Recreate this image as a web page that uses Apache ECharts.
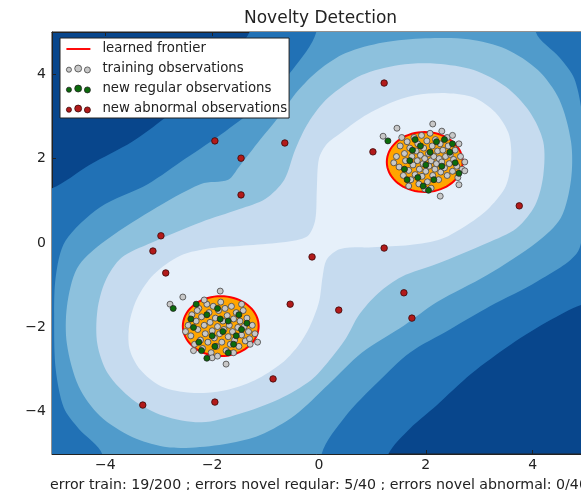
<!DOCTYPE html>
<html><head><meta charset="utf-8">
<script src="https://cdn.jsdelivr.net/npm/echarts@6/dist/echarts.min.js"></script>
<style>html,body{margin:0;padding:0;background:#fff}#c{width:581px;height:490px}</style>
</head><body><div id="c"></div>
<script>
const xTicks = [-4, -2, 0, 2, 4];
const yTicks = [-4, -2, 0, 2, 4];
const titleText = 'Novelty Detection';
const xLabelText = 'error train: 19/200 ; errors novel regular: 5/40 ; errors novel abnormal: 0/40';

// filled contour bands (Blues_r), darkest first
const bandColors = ['#08468c', '#2171b5', '#509bcb', '#8dc1dd', '#c6dbef', '#e6f0fa'];

// region outlines (data coords) for each successive level
const level1 = [[-6,-6],[-6,1.05],[-5,1.3],[-4.3,1.85],[-3.5,2.4],[-2.9,2.95],[-2.25,3.65],[-1.7,4.35],[-1.3,5],[-1.1,6],[6,6],[6,-1.2],[4.95,-1.45],[4.3,-1.85],[3.6,-2.4],[2.85,-3.1],[2.2,-3.85],[1.7,-4.4],[1.3,-5],[1.1,-6]];
const level2 = [[-4.75,0.05],[-4.1,0.85],[-3.2,1.4],[-2.5,2.0],[-1.75,2.65],[-1.1,3.3],[-0.5,4.1],[-0.05,5],[-0.1,6],[4.1,6],[4.06,5],[4.5,4.4],[4.78,3.9],[4.93,3.0],[4.96,1.9],[4.93,0.8],[4.85,-0.2],[4.1,-0.9],[3.2,-1.5],[2.45,-2.05],[1.7,-2.6],[1.1,-3.3],[0.5,-4.1],[0.05,-5],[0.1,-6],[-4.1,-6],[-4.06,-5],[-4.5,-4.4],[-4.78,-3.9],[-4.93,-3.0],[-4.96,-1.9],[-4.93,-0.8]];
const level3 = [[-1.7,1.5],[-1.5,1.8],[-1.1,2.45],[-0.75,3.0],[-0.4,3.6],[0.0,4.1],[0.5,4.5],[1.2,4.75],[2.0,4.85],[2.8,4.83],[3.5,4.6],[4.1,4.1],[4.5,3.4],[4.72,2.4],[4.72,1.5],[4.53,0.6],[4.08,0.02],[3.15,-0.76],[2.21,-1.4],[1.6,-1.95],[0.8,-2.6],[0.17,-3.36],[-0.45,-4.08],[-1.1,-4.55],[-1.7,-4.75],[-2.4,-4.85],[-2.9,-4.83],[-3.5,-4.6],[-4.1,-4.1],[-4.5,-3.4],[-4.72,-2.4],[-4.72,-1.5],[-4.53,-0.6],[-4.08,-0.02],[-3.15,0.76],[-2.21,1.4]];
const level4 = [[-1.5,0.8],[-1.0,1.05],[-0.65,1.5],[-0.45,2.2],[-0.2,2.85],[0.17,3.44],[0.8,3.98],[1.5,4.22],[2.2,4.25],[2.9,4.1],[3.5,3.7],[3.95,3.1],[4.2,2.4],[4.2,1.6],[4.05,0.9],[3.7,0.35],[3.15,0.0],[2.2,-0.5],[1.55,-0.8],[1.1,-1.2],[0.75,-1.7],[0.5,-2.27],[0.17,-2.82],[-0.15,-3.25],[-0.75,-3.7],[-1.5,-4.05],[-2.2,-4.25],[-2.9,-4.1],[-3.5,-3.7],[-3.95,-3.1],[-4.15,-2.4],[-4.15,-1.6],[-4.0,-0.9],[-3.7,-0.35],[-3.15,0.0],[-2.2,0.5]];
const level5 = [[-0.2,0.18],[-0.07,0.55],[-0.04,1.3],[0.0,2.0],[0.15,2.35],[0.4,2.6],[0.8,2.97],[1.3,3.3],[1.8,3.5],[2.4,3.55],[2.9,3.45],[3.3,3.1],[3.55,2.6],[3.6,2.0],[3.5,1.35],[3.2,0.85],[2.8,0.45],[2.3,0.1],[1.7,-0.05],[1.0,-0.1],[0.4,-0.14],[0.15,-0.38],[0.07,-0.78],[0.0,-1.4],[-0.18,-2.0],[-0.4,-2.45],[-0.7,-2.85],[-1.2,-3.25],[-1.8,-3.5],[-2.4,-3.55],[-2.95,-3.4],[-3.35,-3.0],[-3.55,-2.5],[-3.55,-1.9],[-3.4,-1.3],[-3.1,-0.75],[-2.6,-0.3],[-2.0,-0.12],[-1.48,-0.07],[-0.8,0.0],[-0.45,0.06]];
const contourLevels = [level1, level2, level3, level4, level5];

// learned frontier (level 0): centres and radii in data units
const frontierCenters = [[1.98, 1.92], [-1.84, -1.97]];
const frontierRadii = [[0.71, 0.71], [0.71, 0.71]];

const trainUpper = [[1.45,2.05],[1.5,1.8],[1.52,2.3],[1.58,1.6],[1.6,2.12],[1.62,1.95],[1.65,2.4],[1.68,1.72],[1.7,2.25],[1.72,1.5],[1.74,2.05],[1.76,1.85],[1.78,2.5],[1.8,1.62],[1.82,2.18],[1.84,1.95],[1.85,2.35],[1.87,1.4],[1.88,1.75],[1.9,2.08],[1.92,2.55],[1.93,1.58],[1.95,1.88],[1.96,2.25],[1.98,2.0],[2.0,1.7],[2.02,2.42],[2.03,1.45],[2.05,2.12],[2.06,1.82],[2.08,2.6],[2.1,1.95],[2.12,2.3],[2.13,1.6],[2.15,2.05],[2.17,1.75],[2.18,2.45],[2.2,1.88],[2.22,2.18],[2.24,1.5],[2.25,2.0],[2.27,2.35],[2.28,1.68],[2.3,1.92],[2.32,2.2],[2.35,1.78],[2.37,2.05],[2.4,1.6],[2.42,2.3],[2.44,1.88],[2.46,2.1],[2.5,1.7],[2.52,1.98],[2.55,2.2],[2.58,1.82],[1.55,2.5],[1.68,1.35],[2.1,1.3],[2.4,2.5],[2.6,1.55],[1.4,1.9],[2.65,2.05],[2.62,2.35],[1.98,1.28],[2.68,1.75],[1.46,2.72],[1.2,2.53],[2.13,2.82],[2.3,2.65],[2.73,1.92],[2.73,1.71],[2.27,1.11],[2.62,1.38],[2.5,2.55]];
const trainLower = [[-2.45,-1.95],[-2.4,-2.2],[-2.38,-1.7],[-2.33,-2.4],[-2.3,-1.85],[-2.27,-2.05],[-2.25,-1.55],[-2.22,-2.3],[-2.2,-1.75],[-2.18,-2.5],[-2.15,-1.95],[-2.13,-2.15],[-2.1,-1.45],[-2.08,-2.35],[-2.06,-1.65],[-2.04,-1.88],[-2.02,-2.6],[-2.0,-2.08],[-1.98,-1.5],[-1.96,-2.25],[-1.94,-1.78],[-1.92,-2.45],[-1.9,-1.98],[-1.88,-1.6],[-1.86,-2.15],[-1.84,-1.4],[-1.82,-2.35],[-1.8,-1.85],[-1.78,-2.05],[-1.76,-1.55],[-1.74,-2.55],[-1.72,-1.72],[-1.7,-2.22],[-1.68,-1.95],[-1.66,-2.4],[-1.64,-1.5],[-1.62,-2.1],[-1.6,-1.8],[-1.58,-2.3],[-1.55,-1.65],[-1.52,-2.0],[-1.5,-2.45],[-1.48,-1.85],[-1.45,-2.18],[-1.42,-1.6],[-1.4,-1.98],[-1.38,-2.32],[-1.35,-1.78],[-1.32,-2.1],[-1.3,-2.27],[-2.5,-2.1],[-2.35,-2.55],[-2.0,-2.72],[-1.6,-2.6],[-1.45,-1.45],[-2.15,-1.35],[-1.25,-1.95],[-2.28,-1.6],[-1.9,-2.68],[-1.2,-2.15],[-1.85,-1.14],[-2.55,-1.28],[-2.79,-1.45],[-1.74,-2.87],[-1.29,-2.4],[-1.15,-2.35]];
const regularUpper = [[1.29,2.42],[1.6,1.75],[1.75,2.2],[1.85,1.55],[1.9,2.3],[2.0,1.85],[2.08,2.15],[2.15,1.5],[2.2,2.4],[2.3,1.82],[2.45,2.15],[2.55,1.9],[1.7,1.95],[2.62,1.65],[1.95,1.35],[1.65,1.5],[2.35,2.45],[1.8,2.45],[2.5,2.35],[2.05,1.25]];
const regularLower = [[-2.73,-1.55],[-2.1,-2.73],[-2.35,-2.0],[-2.25,-2.35],[-2.1,-1.7],[-2.0,-2.2],[-1.9,-1.55],[-1.8,-2.1],[-1.7,-1.85],[-1.6,-2.4],[-1.5,-1.7],[-1.45,-2.05],[-2.4,-1.8],[-2.2,-2.55],[-1.95,-2.45],[-1.85,-1.8],[-1.35,-1.9],[-2.3,-1.45],[-1.7,-2.6],[-1.55,-2.2]];
const abnormal = [[-1.95,2.42],[-1.46,2.01],[-1.46,1.14],[-0.64,2.37],[-2.96,0.17],[-3.11,-0.19],[-2.87,-0.71],[1.22,3.79],[1.01,2.16],[3.75,0.88],[1.22,-0.12],[-0.13,-0.33],[-0.54,-1.45],[0.37,-1.59],[1.59,-1.18],[1.74,-1.78],[-0.86,-3.22],[-1.95,-3.77],[-3.30,-3.84]];

const FONT = 'DejaVu Sans';
const TXT = '#222';
const fmt = v => (v < 0 ? '\u2212' + Math.abs(v) : String(v));
const threeDots = 'path://M0.8,6a2.2,2.2 0 1,0 4.4,0a2.2,2.2 0 1,0 -4.4,0ZM8,5a3,3 0 1,0 6,0a3,3 0 1,0 -6,0ZM16.4,6.2a2.6,2.6 0 1,0 5.2,0a2.6,2.6 0 1,0 -5.2,0Z';

const chart = echarts.init(document.getElementById('c'), null, {renderer: 'canvas'});
const xAxisBase = {type: 'value', min: -5, max: 5, splitLine: {show: false},
  axisLine: {show: true, onZero: false, lineStyle: {color: TXT, width: 1}},
  axisTick: {show: true, inside: true, length: 4, customValues: xTicks, lineStyle: {color: TXT}}};
const yAxisBase = {type: 'value', min: -5, max: 5, splitLine: {show: false},
  axisLine: {show: true, onZero: false, lineStyle: {color: TXT, width: 1}},
  axisTick: {show: true, inside: true, length: 4, customValues: yTicks, lineStyle: {color: TXT}}};

chart.setOption({
  animation: false,
  textStyle: {fontFamily: FONT},
  title: {text: titleText, left: 244, top: 10, padding: 0,
    textStyle: {fontFamily: FONT, fontSize: 17, fontWeight: 'normal', color: TXT}},
  grid: {left: 52, top: 32, width: 534, height: 422, outerBoundsMode: 'none', containLabel: false,
    show: true, backgroundColor: bandColors[0], borderColor: TXT, borderWidth: 1},
  legend: {orient: 'vertical', left: 60, top: 38, z: 20, itemWidth: 24, itemHeight: 9, itemGap: 6,
    padding: [4, 2, 2, 6], backgroundColor: '#fff', borderColor: TXT, borderWidth: 1, borderRadius: 0,
    textStyle: {fontFamily: FONT, fontSize: 13.3, lineHeight: 14, color: TXT, padding: [0, 0, 0, 7]},
    data: [
      {name: 'learned frontier', icon: 'path://M0,0L30,0L30,2.4L0,2.4Z', itemStyle: {color: '#ff0000', borderWidth: 0}},
      {name: 'training observations', icon: threeDots, itemStyle: {color: '#c8c8c8', borderColor: '#444', borderWidth: 0.8}},
      {name: 'new regular observations', icon: threeDots, itemStyle: {color: '#0b6b0b', borderColor: '#222', borderWidth: 0.8}},
      {name: 'new abnormal observations', icon: threeDots, itemStyle: {color: '#b21a1a', borderColor: '#3b0808', borderWidth: 0.8}}
    ]},
  xAxis: [
    Object.assign({}, xAxisBase, {position: 'bottom',
      axisLabel: {show: true, customValues: xTicks, formatter: fmt, fontFamily: FONT, fontSize: 14, color: TXT, margin: 4},
      name: xLabelText, nameLocation: 'middle', nameGap: 24,
      nameTextStyle: {fontFamily: FONT, fontSize: 14.2, color: TXT}}),
    Object.assign({}, xAxisBase, {position: 'top', axisLabel: {show: false}})
  ],
  yAxis: [
    Object.assign({}, yAxisBase, {position: 'left',
      axisLabel: {show: true, customValues: yTicks, formatter: fmt, fontFamily: FONT, fontSize: 14, color: TXT, margin: 6}}),
    Object.assign({}, yAxisBase, {position: 'right', axisLabel: {show: false}})
  ],
  series: [
    {type: 'custom', name: 'contours', coordinateSystem: 'cartesian2d', clip: true, silent: true, z: 1,
      data: contourLevels.map((_, i) => [0, 0, i]),
      renderItem: (params, api) => ({
        type: 'polygon',
        shape: {points: contourLevels[params.dataIndex].map(p => api.coord(p)), smooth: 0.3},
        style: {fill: bandColors[params.dataIndex + 1], stroke: null}
      })},
    {type: 'custom', name: 'learned frontier', coordinateSystem: 'cartesian2d', clip: true, silent: true, z: 2,
      itemStyle: {color: '#ff0000'},
      data: frontierCenters.map(c => c),
      renderItem: (params, api) => {
        const c = frontierCenters[params.dataIndex], r = frontierRadii[params.dataIndex];
        const pts = [];
        for (let k = 0; k < 72; k++) {
          const a = k / 72 * Math.PI * 2;
          pts.push(api.coord([c[0] + r[0] * Math.cos(a), c[1] + r[1] * Math.sin(a)]));
        }
        return {type: 'polygon', shape: {points: pts}, style: {fill: '#ffa500', stroke: '#ff0000', lineWidth: 2}};
      }},
    {type: 'scatter', name: 'training observations', z: 3, symbolSize: 6, data: trainUpper.concat(trainLower),
      itemStyle: {color: '#c8c8c8', borderColor: '#444', borderWidth: 0.8, opacity: 1}, emphasis: {disabled: true}},
    {type: 'scatter', name: 'new regular observations', z: 4, symbolSize: 6, data: regularUpper.concat(regularLower),
      itemStyle: {color: '#0b6b0b', borderColor: '#222', borderWidth: 0.8, opacity: 1}, emphasis: {disabled: true}},
    {type: 'scatter', name: 'new abnormal observations', z: 5, symbolSize: 6.5, data: abnormal,
      itemStyle: {color: '#b21a1a', borderColor: '#3b0808', borderWidth: 0.8, opacity: 1}, emphasis: {disabled: true}}
  ]
});
</script></body></html>
